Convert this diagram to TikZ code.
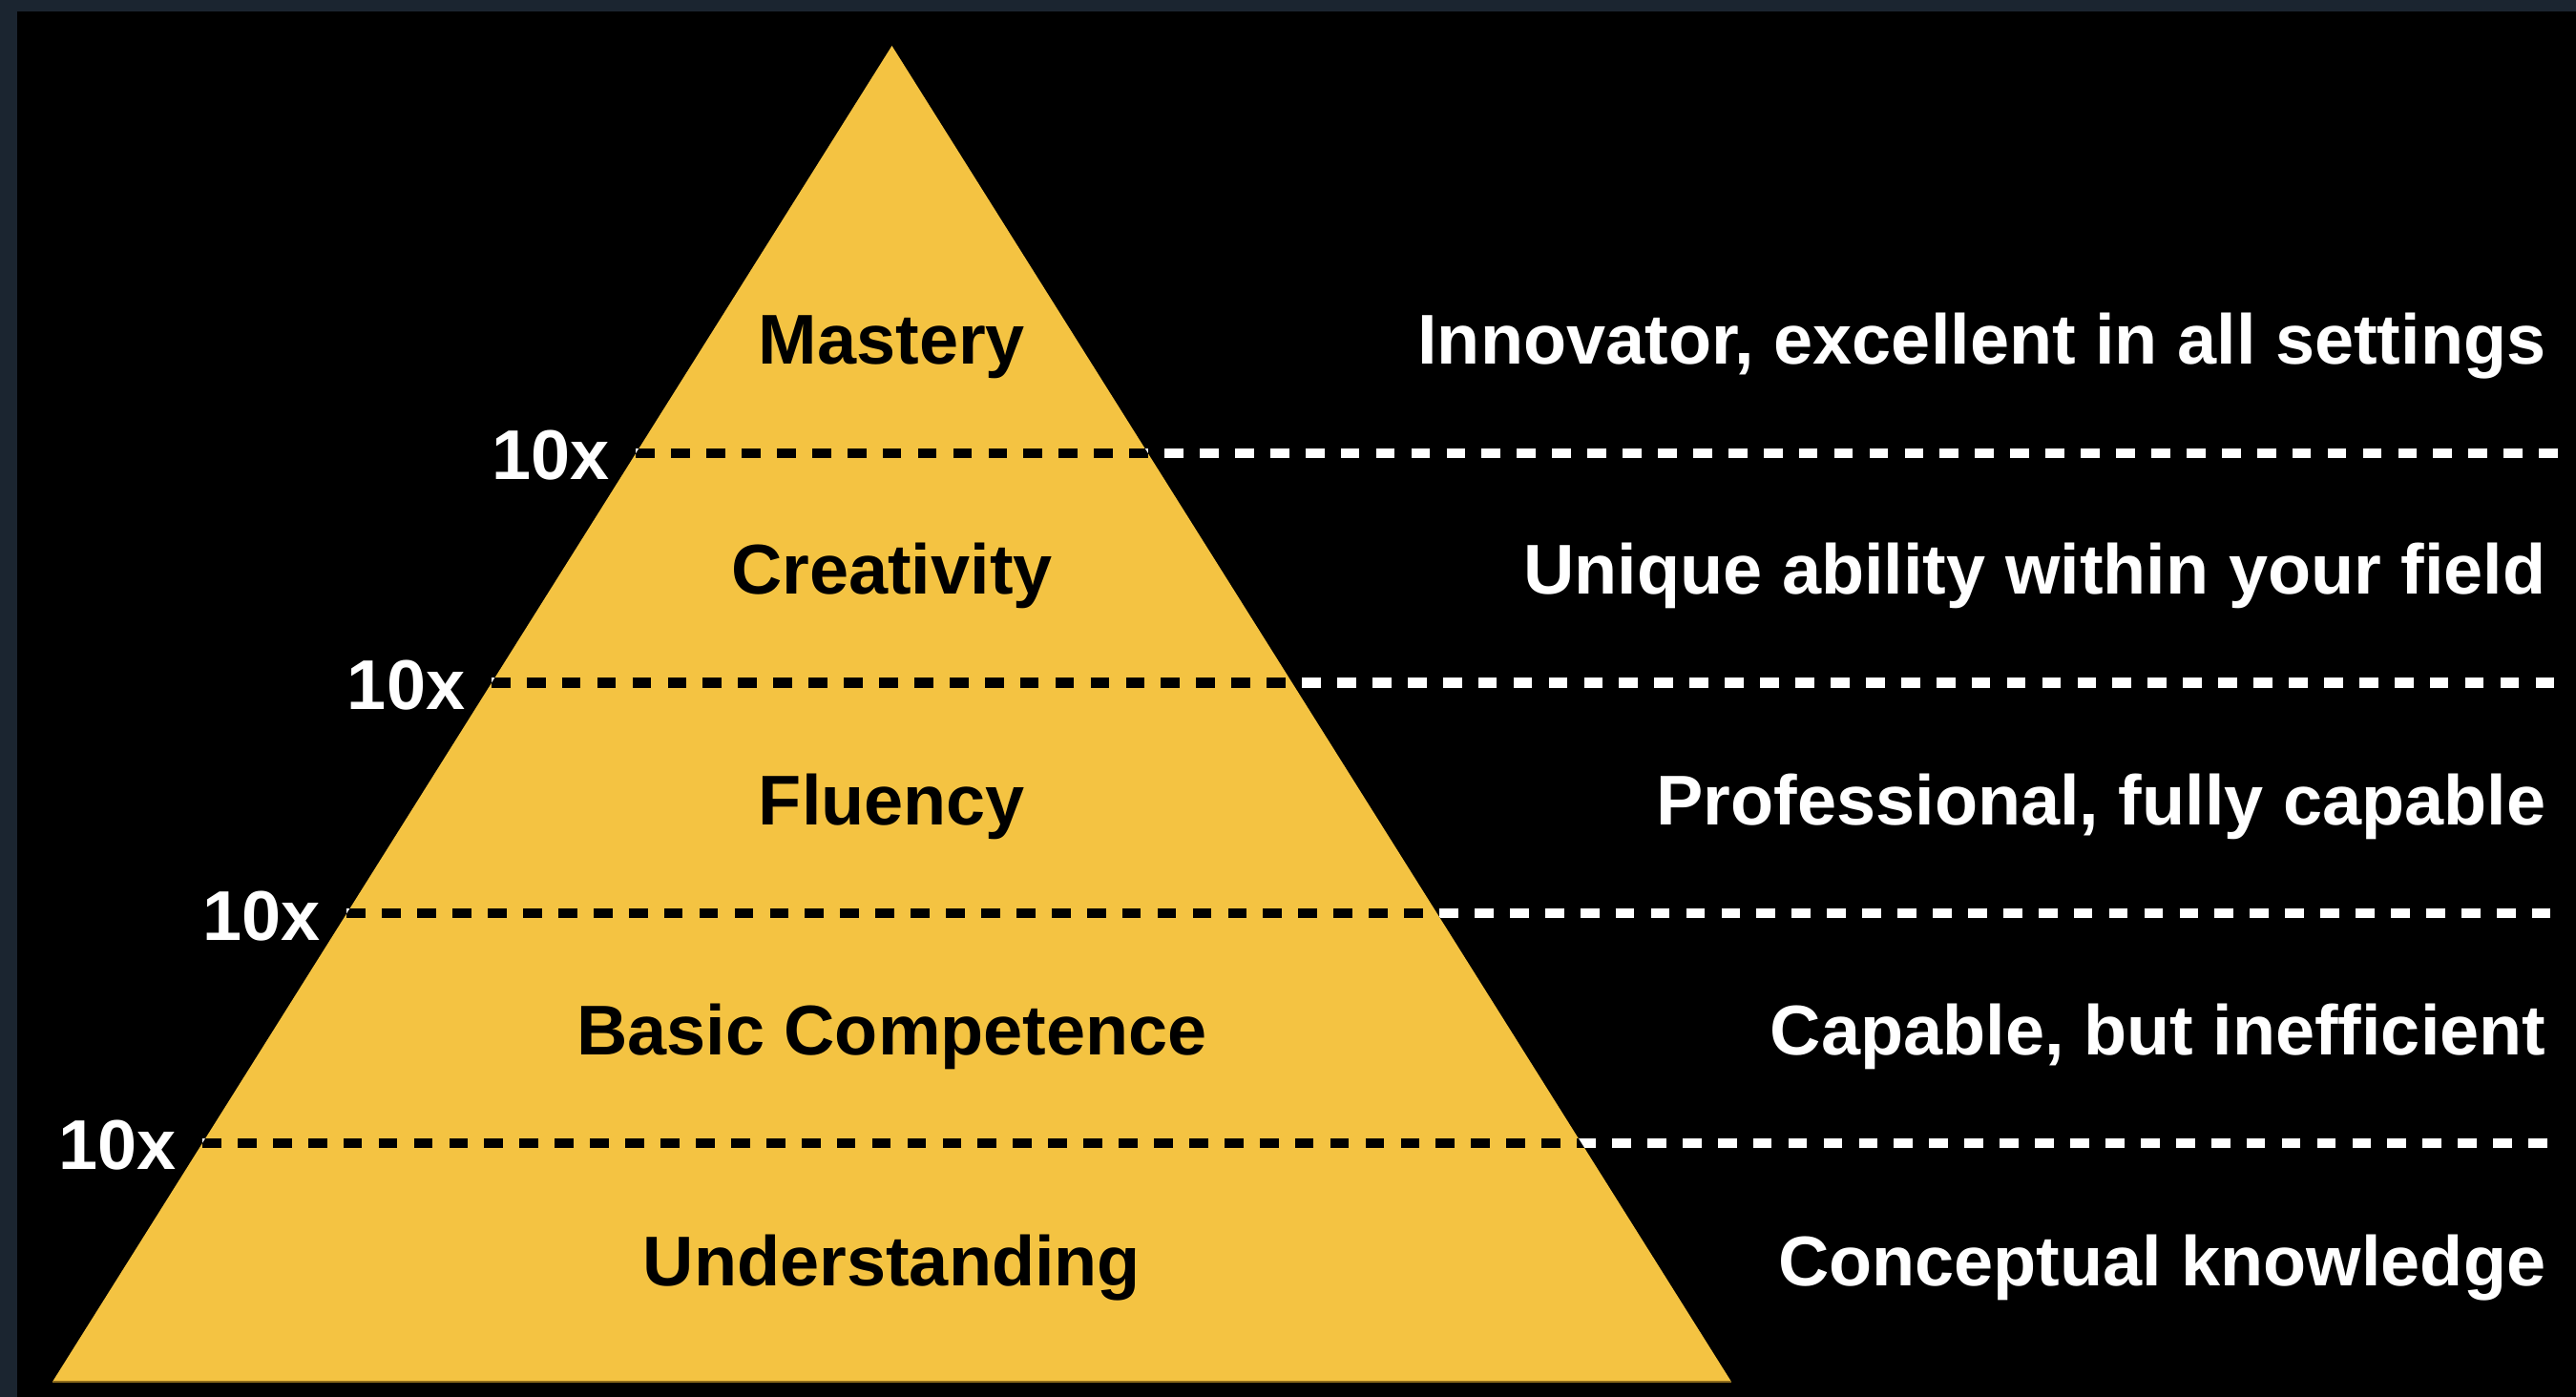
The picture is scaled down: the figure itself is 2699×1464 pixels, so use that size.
\documentclass[tikz,border=0pt]{standalone}
\usepackage{fontspec}
\setmainfont{Liberation Sans}
\usetikzlibrary{calc}

\definecolor{framegray}{HTML}{1B2530}
\definecolor{gold}{HTML}{F4C342}
\definecolor{darkgold}{HTML}{8E6C1C}

\begin{document}
\begin{tikzpicture}[x=0.01cm, y=-0.01cm, line cap = butt, line join = round]
\tikzstyle{level}=[font=\fontsize{21}{25}\selectfont\bfseries, text=black, anchor=base, inner sep=0pt]
\tikzstyle{note}=[font=\fontsize{21}{25}\selectfont\bfseries, text=white, anchor=base east, inner sep=0pt]
\tikzstyle{factor}=[font=\fontsize{21}{25}\selectfont\bfseries, text=white, anchor=base east, inner sep=0pt]
\tikzstyle{rule}=[line width=3.1pt, dash pattern=on 5.6pt off 4.9pt]
\useasboundingbox (0,0) rectangle (2699,1464);
\fill[framegray] (0,0) rectangle (2699,1464);
\fill[black] (18,12) rectangle (2699,1464);

\coordinate (top) at (934.5,48);
\coordinate (bl) at (55,1448);
\coordinate (br) at (1814,1448);
\coordinate (far) at (2683,0);
\fill[gold] (top) -- (bl) -- (br) -- cycle;
\draw[darkgold, line width=0.6pt] (bl) -- (br);

% where the rules meet the left side
\coordinate (e1) at ($(top)!0.305!(bl)$);
\coordinate (e2) at ($(top)!0.4771!(bl)$);
\coordinate (e3) at ($(top)!0.6493!(bl)$);
\coordinate (e4) at ($(top)!0.8214!(bl)$);
\coordinate (r1) at (e1 -| far);
\coordinate (r2) at (e2 -| far);
\coordinate (r3) at (e3 -| far);
\coordinate (r4) at (e4 -| far);

\draw[rule, white] (e1) -- (r1);
\draw[rule, white] (e2) -- (r2);
\draw[rule, white] (e3) -- (r3);
\draw[rule, white] (e4) -- (r4);
\begin{scope}
\clip (top) -- (bl) -- (br) -- cycle;
\draw[rule, black] (e1) -- (r1);
\draw[rule, black] (e2) -- (r2);
\draw[rule, black] (e3) -- (r3);
\draw[rule, black] (e4) -- (r4);
\end{scope}

\node[factor] (f1) at ($(e1)+(-27,28)$) {10x};
\node[factor] (f2) at ($(e2)+(-27,28)$) {10x};
\node[factor] (f3) at ($(e3)+(-27,28)$) {10x};
\node[factor] (f4) at ($(e4)+(-27,28)$) {10x};

\node[level] (mastery) at (934.5,382) {Mastery};
\node[level] (creativity) at (934.5,623) {Creativity};
\node[level] (fluency) at (934.5,864) {Fluency};
\node[level] (basic) at (934.5,1105) {Basic Competence};
\node[level] (understanding) at (934.5,1347) {Understanding};

\node[note] (innovator) at (2668,382) {Innovator, excellent in all settings};
\node[note] (unique) at (2668,623) {Unique ability within your field};
\node[note] (professional) at (2668,864) {Professional, fully capable};
\node[note] (capable) at (2668,1105) {Capable, but inefficient};
\node[note] (conceptual) at (2668,1347) {Conceptual knowledge};
\end{tikzpicture}
\end{document}
